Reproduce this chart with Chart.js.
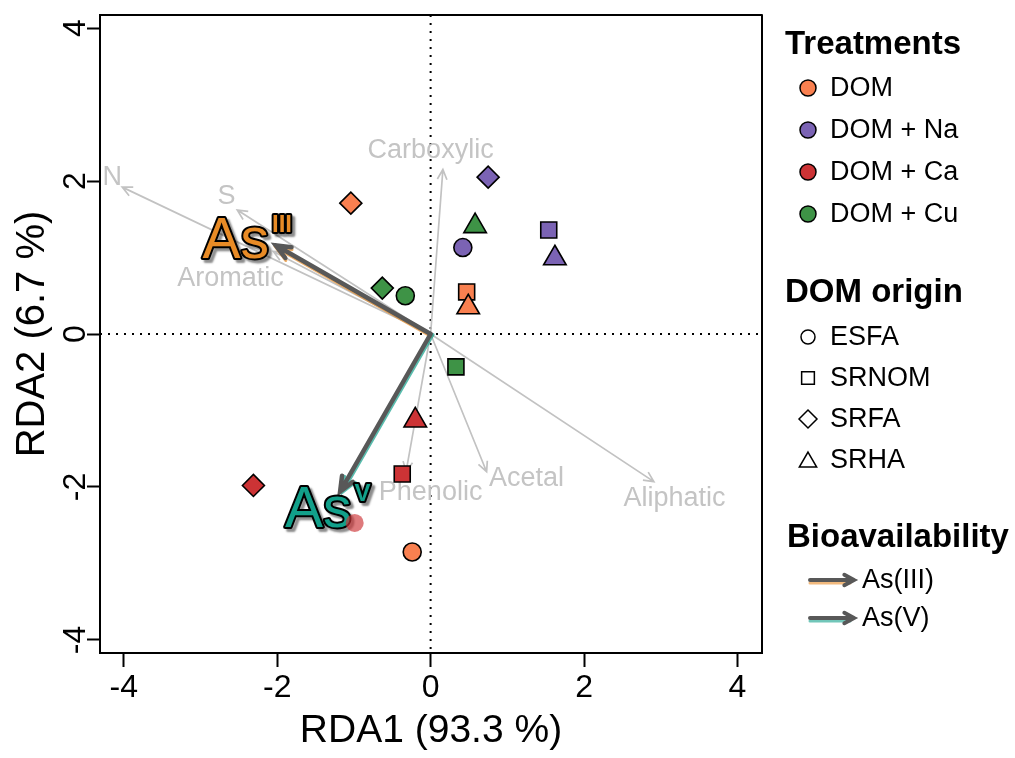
<!DOCTYPE html>
<html>
<head>
<meta charset="utf-8">
<script src="https://cdn.jsdelivr.net/npm/chart.js@4.4.0/dist/chart.umd.min.js"></script>
<style>
  html, body { margin: 0; padding: 0; background: #fff; }
  #wrap { width: 1015px; height: 758px; }
</style>
</head>
<body>
<div id="wrap"><canvas id="rda" width="1015" height="758"></canvas></div>
<script>
const FONT = '"Liberation Sans", Arial, Helvetica, sans-serif';

// sample scores, one row per treatment, columns in origin order
const treatments = ['DOM', 'DOM + Na', 'DOM + Ca', 'DOM + Cu'];
const treatColors = ['#F98050', '#7B63B4', '#CC3335', '#3E9346'];
const origins = ['ESFA', 'SRNOM', 'SRFA', 'SRHA'];
const originShapes = ['circle', 'rect', 'rectRot', 'triangle'];
const rda1 = [
  [-0.24, 0.47, -1.04, 0.49],
  [0.42, 1.54, 0.75, 1.62],
  [-0.99, -0.37, -2.31, -0.20],
  [-0.33, 0.33, -0.63, 0.58],
];
const rda2 = [
  [-2.85, 0.55, 1.71, 0.35],
  [1.13, 1.36, 2.05, 0.99],
  [-2.47, -1.83, -1.98, -1.13],
  [0.50, -0.43, 0.60, 1.41],
];

// DOM property vectors (arrow tips + label spots)
const envNames = ['N', 'S', 'Aromatic', 'Carboxylic', 'Phenolic', 'Acetal', 'Aliphatic'];
const envX = [-4.02, -2.52, -2.05, 0.16, -0.32, 0.73, 2.91];
const envY = [1.92, 1.62, 1.08, 2.15, -1.80, -1.80, -1.93];
const envLabelX = [-4.15, -2.66, -2.61, 0.00, 0.00, 1.25, 3.18];
const envLabelY = [2.04, 1.80, 0.73, 2.40, -2.07, -1.89, -2.15];

// bioavailability vectors
const bioNames = ['As(III)', 'As(V)'];
const bioBase = ['As', 'As'];
const bioSup = ['III', 'V'];
const bioX = [-2.02, -1.18];
const bioY = [1.16, -2.06];
const bioLabelX = [-2.39, -1.34];
const bioLabelY = [1.26, -2.26];
const bioColors = ['#E88B26', '#12A08A'];

const xTicks = [-4, -2, 0, 2, 4];
const yTicks = [-4, -2, 0, 2, 4];

const shapeRadius = { circle: 9, rect: 11.3, rectRot: 11, triangle: 13 };

function arrow(ctx, x0, y0, x1, y1, head, ang) {
  const a = Math.atan2(y1 - y0, x1 - x0);
  ctx.beginPath();
  ctx.moveTo(x0, y0);
  ctx.lineTo(x1, y1);
  ctx.moveTo(x1 - head * Math.cos(a - ang), y1 - head * Math.sin(a - ang));
  ctx.lineTo(x1, y1);
  ctx.lineTo(x1 - head * Math.cos(a + ang), y1 - head * Math.sin(a + ang));
  ctx.stroke();
}

function shape(ctx, kind, x, y, r, fill) {
  ctx.beginPath();
  if (kind === 'circle') {
    ctx.arc(x, y, r, 0, Math.PI * 2);
  } else if (kind === 'rect') {
    ctx.rect(x - r * 0.707, y - r * 0.707, r * 1.414, r * 1.414);
  } else if (kind === 'rectRot') {
    ctx.moveTo(x - r, y); ctx.lineTo(x, y - r); ctx.lineTo(x + r, y); ctx.lineTo(x, y + r);
    ctx.closePath();
  } else {
    ctx.moveTo(x, y - r);
    ctx.lineTo(x + r * 0.866, y + r / 2);
    ctx.lineTo(x - r * 0.866, y + r / 2);
    ctx.closePath();
  }
  ctx.fillStyle = fill;
  ctx.fill();
  ctx.stroke();
}

const rdaDecor = {
  id: 'rdaDecor',
  beforeDatasetsDraw(chart) {
    const { ctx, chartArea: a, scales: { x, y } } = chart;
    const ox = x.getPixelForValue(0), oy = y.getPixelForValue(0);

    ctx.save();
    // zero lines
    ctx.strokeStyle = '#000';
    ctx.lineWidth = 2;
    ctx.setLineDash([2, 6]);
    ctx.beginPath();
    ctx.moveTo(a.left, oy); ctx.lineTo(a.right, oy);
    ctx.moveTo(ox, a.top); ctx.lineTo(ox, a.bottom);
    ctx.stroke();
    ctx.setLineDash([]);

    // DOM property arrows
    ctx.strokeStyle = '#C2C2C2';
    ctx.lineWidth = 1.7;
    envNames.forEach((n, i) => {
      arrow(ctx, ox, oy, x.getPixelForValue(envX[i]), y.getPixelForValue(envY[i]), 11, 0.45);
    });
    ctx.fillStyle = '#C4C4C4';
    ctx.font = `27px ${FONT}`;
    ctx.textAlign = 'center';
    ctx.textBaseline = 'middle';
    envNames.forEach((n, i) => {
      ctx.fillText(n, x.getPixelForValue(envLabelX[i]), y.getPixelForValue(envLabelY[i]));
    });

    // bioavailability arrows
    ctx.lineCap = 'round';
    const offs = [[0.5, 2.5], [2.5, 0.5]];
    bioNames.forEach((n, i) => {
      const tx = x.getPixelForValue(bioX[i]), ty = y.getPixelForValue(bioY[i]);
      ctx.strokeStyle = bioColors[i];
      ctx.globalAlpha = 0.7;
      ctx.lineWidth = 3;
      arrow(ctx, ox + offs[i][0], oy + offs[i][1], tx + offs[i][0], ty + offs[i][1], 16, 0.4);
      ctx.globalAlpha = 1;
      ctx.strokeStyle = '#585858';
      ctx.lineWidth = 4.5;
      arrow(ctx, ox, oy, tx, ty, 16, 0.4);
    });

    // As labels
    bioNames.forEach((n, i) => {
      const cx = x.getPixelForValue(bioLabelX[i]), cy = y.getPixelForValue(bioLabelY[i]);
      ctx.textAlign = 'left';
      ctx.textBaseline = 'alphabetic';
      ctx.font = `57px ${FONT}`;
      const w1 = ctx.measureText(bioBase[i]).width;
      ctx.font = `bold 24px ${FONT}`;
      const w2 = ctx.measureText(bioSup[i]).width;
      const sx = cx - (w1 + 3 + w2) / 2;
      const base = cy + 20;
      const parts = [
        [bioBase[i], `57px ${FONT}`, sx, base],
        [bioSup[i], `bold 24px ${FONT}`, sx + w1 + 3, base - 26],
      ];
      ctx.lineJoin = 'round';
      parts.forEach(([t, f, px, py]) => {
        ctx.font = f;
        ctx.save();
        ctx.shadowColor = 'rgba(0,0,0,0.45)';
        ctx.shadowOffsetX = 3;
        ctx.shadowOffsetY = 3;
        ctx.shadowBlur = 2;
        ctx.strokeStyle = '#000';
        ctx.lineWidth = 4;
        ctx.strokeText(t, px, py);
        ctx.restore();
        ctx.fillStyle = bioColors[i];
        ctx.fillText(t, px, py);
      });
    });

    // frame
    ctx.strokeStyle = '#000';
    ctx.lineWidth = 2;
    ctx.strokeRect(a.left, a.top, a.right - a.left, a.bottom - a.top);
    ctx.restore();
  },
  afterDraw(chart) {
    const { ctx, scales: { y } } = chart;
    ctx.save();
    // rotated y tick labels
    ctx.fillStyle = '#000';
    ctx.font = `32px ${FONT}`;
    ctx.textAlign = 'center';
    ctx.textBaseline = 'middle';
    y.ticks.forEach(t => {
      ctx.save();
      ctx.translate(76, y.getPixelForValue(t.value));
      ctx.rotate(-Math.PI / 2);
      ctx.fillText(String(t.value), 0, 0);
      ctx.restore();
    });

    // legend
    ctx.textAlign = 'left';
    ctx.font = `bold 33px ${FONT}`;
    ctx.fillText('Treatments', 785, 45);
    ctx.fillText('DOM origin', 785, 293);
    ctx.fillText('Bioavailability', 787, 538);

    ctx.strokeStyle = '#000';
    ctx.lineWidth = 1.5;
    ctx.font = `27px ${FONT}`;
    treatments.forEach((t, i) => {
      const ly = 88 + i * 42;
      shape(ctx, 'circle', 808, ly, 8, treatColors[i]);
      ctx.fillStyle = '#000';
      ctx.fillText(t, 830, ly + 1);
    });
    const legR = { circle: 7, rect: 9, rectRot: 9, triangle: 10 };
    origins.forEach((o, i) => {
      const ly = 337 + i * 41;
      shape(ctx, originShapes[i], 808, ly + (originShapes[i] === 'triangle' ? 2 : 0), legR[originShapes[i]], '#fff');
      ctx.fillStyle = '#000';
      ctx.fillText(o, 830, ly + 1);
    });
    ctx.lineCap = 'round';
    bioNames.forEach((n, i) => {
      const ly = 580 + i * 38;
      ctx.strokeStyle = bioColors[i];
      ctx.globalAlpha = 0.6;
      ctx.lineWidth = 3;
      ctx.beginPath(); ctx.moveTo(810, ly + 3); ctx.lineTo(850, ly + 3); ctx.stroke();
      ctx.globalAlpha = 1;
      ctx.strokeStyle = '#585858';
      ctx.lineWidth = 4;
      arrow(ctx, 810, ly, 854, ly, 11, 0.5);
      ctx.fillStyle = '#000';
      ctx.fillText(n, 862, ly + 1);
    });
    ctx.restore();
  }
};

const datasets = treatments.map((t, ti) => ({
  label: t,
  data: origins.map((o, oi) => ({ x: rda1[ti][oi], y: rda2[ti][oi] })),
  pointStyle: originShapes,
  pointRadius: originShapes.map(s => shapeRadius[s]),
  backgroundColor: ctx => (ti === 2 && ctx.dataIndex === 0) ? 'rgba(204,51,53,0.65)' : treatColors[ti],
  borderColor: ctx => (ti === 2 && ctx.dataIndex === 0) ? 'rgba(0,0,0,0)' : '#000',
  borderWidth: 1.6,
  showLine: false,
}));

new Chart(document.getElementById('rda'), {
  type: 'scatter',
  data: { datasets },
  plugins: [rdaDecor],
  options: {
    responsive: false,
    devicePixelRatio: 1,
    animation: false,
    layout: { padding: { top: 15, right: 253, bottom: 0, left: 0 } },
    plugins: { legend: { display: false }, tooltip: { enabled: false } },
    scales: {
      x: {
        type: 'linear',
        min: -4.31,
        max: 4.32,
        afterBuildTicks: s => { s.ticks = xTicks.map(v => ({ value: v })); },
        afterFit: s => { s.height = 105; },
        border: { color: '#000', width: 2 },
        grid: { drawOnChartArea: false, drawTicks: true, tickLength: 14, tickColor: '#000', tickWidth: 2 },
        ticks: { color: '#000', font: { family: FONT, size: 32 }, padding: 2, maxRotation: 0 },
        title: { display: true, text: 'RDA1 (93.3 %)', color: '#000', font: { family: FONT, size: 39 }, padding: { top: 0, bottom: 3 } },
      },
      y: {
        type: 'linear',
        min: -4.17,
        max: 4.17,
        afterBuildTicks: s => { s.ticks = yTicks.map(v => ({ value: v })); },
        afterFit: s => { s.width = 100; },
        border: { color: '#000', width: 2 },
        grid: { drawOnChartArea: false, drawTicks: true, tickLength: 13, tickColor: '#000', tickWidth: 2 },
        ticks: { display: false },
        title: { display: true, text: 'RDA2 (6.7 %)', color: '#000', font: { family: FONT, size: 40 }, padding: { top: 9, bottom: 0 } },
      },
    },
  },
});
</script>
</body>
</html>
